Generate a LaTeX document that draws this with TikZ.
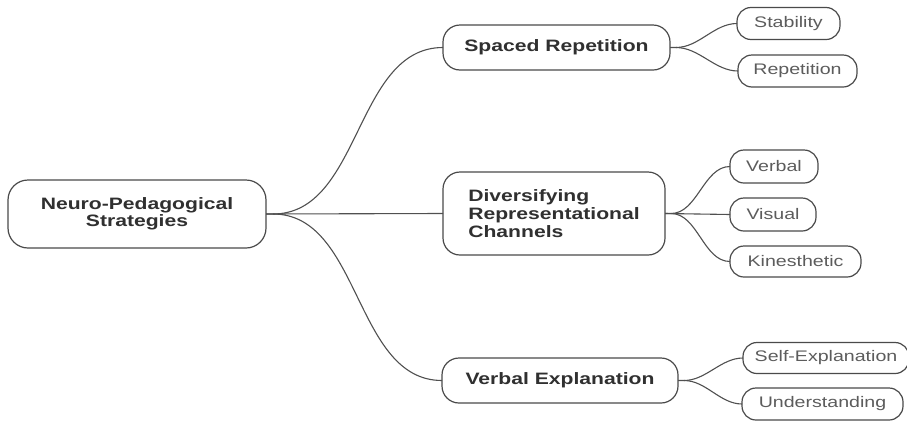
\documentclass[tikz,border=0pt]{standalone}
\usepackage{fontspec}
\setmainfont[FakeStretch=1.28]{Liberation Sans}
\definecolor{boxline}{HTML}{4A4A4A}
\definecolor{conline}{HTML}{505050}
\definecolor{boldtext}{HTML}{303030}
\definecolor{leaftext}{HTML}{5C5C5C}
\tikzset{
  base/.style={draw=boxline, line width=1.2pt, fill=white, inner sep=0pt, outer sep=0pt},
  rootbox/.style={base, rounded corners=20pt, font=\fontsize{16.5}{17.5}\selectfont\bfseries, text=boldtext, align=center},
  midbox/.style={base, rounded corners=17pt, font=\fontsize{16.5}{18}\selectfont\bfseries, text=boldtext},
  leafbox/.style={base, rounded corners=14pt, font=\fontsize{15.3}{17}\selectfont, text=leaftext},
  con/.style={draw=conline, line width=1.1pt},
}
\begin{document}
\begin{tikzpicture}[x=1pt, y=-1pt]
\useasboundingbox (0,0) rectangle (907,421);
\clip (0,0) rectangle (907,421);
% nodes
\node[rootbox, minimum width=258pt, minimum height=68pt] (root) at (137,214) {Neuro-Pedagogical\\Strategies};
\node[midbox, minimum width=227pt, minimum height=45pt] (sr) at (556.5,47.5) {Spaced Repetition};
\node[midbox, minimum width=222pt, minimum height=83pt, align=left] (dr) at (554,213.5) {Diversifying\\Representational\\Channels};
\node[midbox, minimum width=236pt, minimum height=45pt] (ve) at (560,380.5) {Verbal Explanation};
\node[leafbox, minimum width=103pt, minimum height=32pt] (stab) at (788.5,23.5) {Stability};
\node[leafbox, minimum width=119pt, minimum height=32pt] (rep) at (797.5,71) {Repetition};
\node[leafbox, minimum width=88pt, minimum height=33pt] (verb) at (774,166.5) {Verbal};
\node[leafbox, minimum width=86pt, minimum height=33pt] (vis) at (773,214.5) {Visual};
\node[leafbox, minimum width=131pt, minimum height=31pt] (kin) at (795.5,261.5) {Kinesthetic};
\node[leafbox, minimum width=166pt, minimum height=31pt] (self) at (826,358) {Self-Explanation};
\node[leafbox, minimum width=161pt, minimum height=32pt] (und) at (822.5,404) {Understanding};
% connectors root -> mid
\draw[con] (root.east) -- ++(7,0) coordinate (rj) to[out=0,in=180,looseness=0.95] (sr.west);
\draw[con] (root.east) -- (dr.west);
\draw[con] (rj) to[out=0,in=180,looseness=0.95] (ve.west);
% mid -> leaves
\draw[con] (sr.east) -- ++(6,0) coordinate (sj) to[out=0,in=180,looseness=0.9] (stab.west);
\draw[con] (sj) to[out=0,in=180,looseness=0.9] (rep.west);
\draw[con] (dr.east) -- ++(6,0) coordinate (dj) to[out=0,in=180,looseness=0.9] (verb.west);
\draw[con] (dr.east) -- (vis.west);
\draw[con] (dj) to[out=0,in=180,looseness=0.9] (kin.west);
\draw[con] (ve.east) -- ++(6,0) coordinate (vj) to[out=0,in=180,looseness=0.9] (self.west);
\draw[con] (vj) to[out=0,in=180,looseness=0.9] (und.west);
\end{tikzpicture}
\end{document}
